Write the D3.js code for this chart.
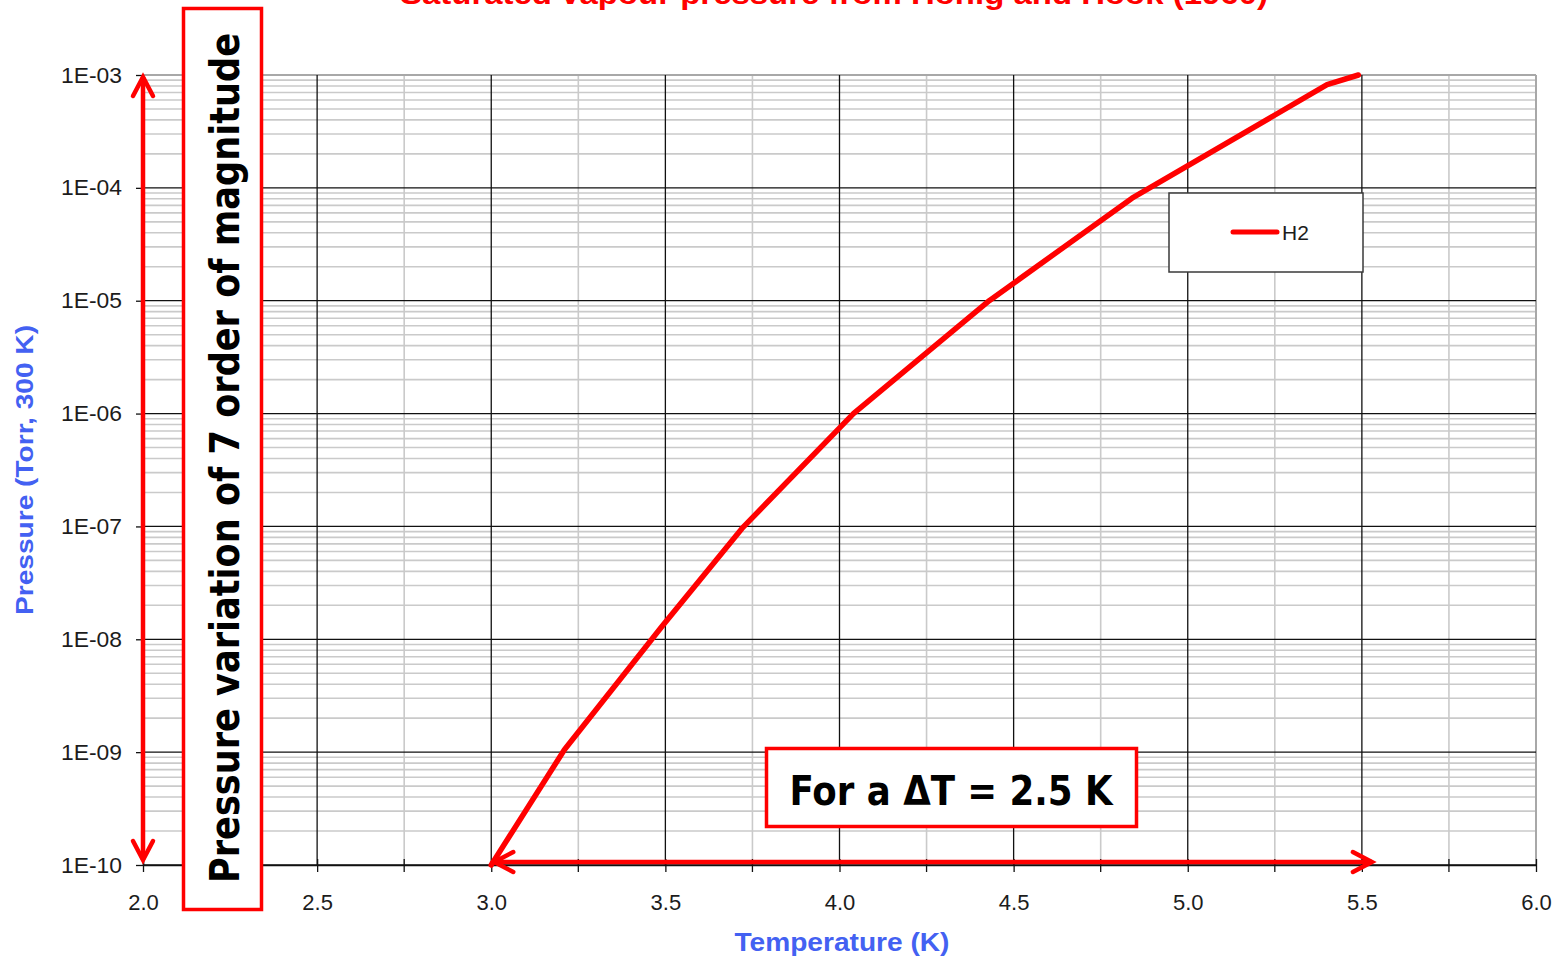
<!DOCTYPE html>
<html>
<head>
<meta charset="utf-8">
<script src="https://cdn.jsdelivr.net/npm/d3@7"></script>
<style>
  html, body { margin: 0; padding: 0; background: #fff; overflow: hidden; }
  svg { display: block; }
</style>
</head>
<body>
<svg id="chart" width="1559" height="959"></svg>
<script>
// ---- data ----
const temperatureK = [3.00, 3.21, 3.49, 3.72, 4.04, 4.43, 4.84, 5.40, 5.49];
const pressureTorr = [1.0e-10, 1.05e-9, 1.3e-8, 9.6e-8, 1.0e-6, 1.0e-5, 8.1e-5, 8.2e-4, 1.0e-3];
const xTickValues = [2.0, 2.5, 3.0, 3.5, 4.0, 4.5, 5.0, 5.5, 6.0];
const xTickLabels = ["2.0", "2.5", "3.0", "3.5", "4.0", "4.5", "5.0", "5.5", "6.0"];
const yTickValues = [1e-3, 1e-4, 1e-5, 1e-6, 1e-7, 1e-8, 1e-9, 1e-10];
const yTickLabels = ["1E-03", "1E-04", "1E-05", "1E-06", "1E-07", "1E-08", "1E-09", "1E-10"];
const seriesName = "H2";
const titleText = "Saturated vapour pressure from Honig and Hook (1960)";
const xTitle = "Temperature (K)";
const yTitle = "Pressure (Torr, 300 K)";
const noteVertical = "Pressure variation of 7 order of magnitude";
const noteHorizontal = "For a \u0394T = 2.5 K";
const deltaRange = [3.0, 5.5];

// ---- layout ----
const svg = d3.select("#chart");
const L = 143, R = 1536, T = 75, B = 865;
const x = d3.scaleLinear().domain([2, 6]).range([L, R]);
const y = d3.scaleLog().domain([1e-10, 1e-3]).range([B, T]);

const red = "#ff0000";
const blue = "#4361f2";
const gridGray = "#cacaca";

// title (mostly cut off above the page, as in the reference)
svg.append("text")
  .attr("x", 834).attr("y", 4)
  .attr("text-anchor", "middle")
  .attr("font-family", "Liberation Sans, Arial, sans-serif")
  .attr("font-weight", "bold")
  .attr("font-size", 30)
  .attr("fill", red)
  .attr("textLength", 868).attr("lengthAdjust", "spacingAndGlyphs")
  .text(titleText);

const g = svg.append("g");

// minor horizontal grid
const minorY = [];
for (let e = -10; e < -3; e++) {
  for (let m = 2; m <= 9; m++) minorY.push(m * Math.pow(10, e));
}
g.append("g").selectAll("line").data(minorY).join("line")
  .attr("x1", L).attr("x2", R)
  .attr("y1", d => y(d)).attr("y2", d => y(d))
  .attr("stroke", gridGray).attr("stroke-width", 1.6);

// minor vertical grid (every 0.25 K)
const minorX = d3.range(2.25, 6, 0.5);
g.append("g").selectAll("line").data(minorX).join("line")
  .attr("x1", d => x(d)).attr("x2", d => x(d))
  .attr("y1", T).attr("y2", B)
  .attr("stroke", gridGray).attr("stroke-width", 1.6);

// plot border (top/right gray)
g.append("line").attr("x1", L).attr("x2", R).attr("y1", T).attr("y2", T)
  .attr("stroke", "#a8a8a8").attr("stroke-width", 2);
g.append("line").attr("x1", R).attr("x2", R).attr("y1", T).attr("y2", B)
  .attr("stroke", "#a8a8a8").attr("stroke-width", 2);

// major horizontal grid
g.append("g").selectAll("line").data(yTickValues.slice(1)).join("line")
  .attr("x1", L).attr("x2", R)
  .attr("y1", d => y(d)).attr("y2", d => y(d))
  .attr("stroke", "#111").attr("stroke-width", 1.3);

// major vertical grid
g.append("g").selectAll("line").data(xTickValues.slice(1, -1)).join("line")
  .attr("x1", d => x(d)).attr("x2", d => x(d))
  .attr("y1", T).attr("y2", B)
  .attr("stroke", "#111").attr("stroke-width", 1.3);

// x axis
const xAxis = d3.axisBottom(x)
  .tickValues(xTickValues)
  .tickFormat((d, i) => xTickLabels[i])
  .tickSizeInner(7).tickSizeOuter(0).tickPadding(22);
const xg = svg.append("g").attr("transform", `translate(0,${B})`).call(xAxis);
xg.select(".domain").attr("stroke", "#111").attr("stroke-width", 1.5);
xg.selectAll(".tick line").attr("stroke", "#111").attr("stroke-width", 1.3).attr("y1", -6);
xg.selectAll(".tick text")
  .attr("font-family", "Liberation Sans, Arial, sans-serif")
  .attr("font-size", 22).attr("fill", "#1c1c1c");
// minor x ticks
xg.append("g").selectAll("line").data(minorX).join("line")
  .attr("x1", d => x(d)).attr("x2", d => x(d))
  .attr("y1", -6).attr("y2", 7)
  .attr("stroke", "#111").attr("stroke-width", 1.3);

// y axis
const yAxis = d3.axisLeft(y)
  .tickValues(yTickValues)
  .tickFormat((d, i) => yTickLabels[i])
  .tickSizeInner(7).tickSizeOuter(0).tickPadding(14);
const yg = svg.append("g").attr("transform", `translate(${L},0)`).call(yAxis);
yg.select(".domain").attr("stroke", "#111").attr("stroke-width", 1.5);
yg.selectAll(".tick line").attr("stroke", "#111").attr("stroke-width", 1.3);
yg.selectAll(".tick text")
  .attr("font-family", "Liberation Sans, Arial, sans-serif")
  .attr("font-size", 22).attr("fill", "#1c1c1c")
  .attr("textLength", 61).attr("lengthAdjust", "spacingAndGlyphs");

// axis titles
svg.append("text")
  .attr("x", 842).attr("y", 951)
  .attr("text-anchor", "middle")
  .attr("font-family", "Liberation Sans, Arial, sans-serif")
  .attr("font-weight", "bold").attr("font-size", 25)
  .attr("fill", blue)
  .attr("textLength", 215).attr("lengthAdjust", "spacingAndGlyphs")
  .text(xTitle);
svg.append("text")
  .attr("transform", "translate(33,470) rotate(-90)")
  .attr("text-anchor", "middle")
  .attr("font-family", "Liberation Sans, Arial, sans-serif")
  .attr("font-weight", "bold").attr("font-size", 24)
  .attr("fill", blue)
  .attr("textLength", 290).attr("lengthAdjust", "spacingAndGlyphs")
  .text(yTitle);

// data line
const pts = temperatureK.map((t, i) => [t, pressureTorr[i]]);
const line = d3.line().x(d => x(d[0])).y(d => y(d[1]));
svg.append("path")
  .datum(pts)
  .attr("d", line)
  .attr("fill", "none")
  .attr("stroke", red)
  .attr("stroke-width", 5.5)
  .attr("stroke-linejoin", "round")
  .attr("stroke-linecap", "round");

// legend
const lg = svg.append("g");
lg.append("rect").attr("x", 1169).attr("y", 193).attr("width", 194).attr("height", 79)
  .attr("fill", "#fff").attr("stroke", "#3a3a3a").attr("stroke-width", 1.5);
lg.append("line").attr("x1", 1233).attr("x2", 1277).attr("y1", 232).attr("y2", 232)
  .attr("stroke", red).attr("stroke-width", 5).attr("stroke-linecap", "round");
lg.append("text").attr("x", 1282).attr("y", 240)
  .attr("font-family", "Liberation Sans, Arial, sans-serif")
  .attr("font-size", 21).attr("fill", "#1c1c1c")
  .text(seriesName);

// ---- annotations ----
const ann = svg.append("g");
function chevron(tipX, tipY, dirX, dirY) {
  const len = 19, half = 10;
  const bx = tipX - dirX * len, by = tipY - dirY * len;
  const px = -dirY, py = dirX;
  return `M${bx + px * half},${by + py * half}L${tipX},${tipY}L${bx - px * half},${by - py * half}`;
}
// vertical double arrow at x = 2.0
const vx = x(2.0), vTop = y(1e-3) + 2, vBot = y(1e-10) - 5;
ann.append("line").attr("x1", vx).attr("x2", vx).attr("y1", vTop).attr("y2", vBot)
  .attr("stroke", red).attr("stroke-width", 4.5);
ann.append("path").attr("d", chevron(vx, vTop, 0, -1))
  .attr("fill", "none").attr("stroke", red).attr("stroke-width", 4.5).attr("stroke-linecap", "round");
ann.append("path").attr("d", chevron(vx, vBot, 0, 1))
  .attr("fill", "none").attr("stroke", red).attr("stroke-width", 4.5).attr("stroke-linecap", "round");

// horizontal double arrow across deltaT
const hy = y(1e-10) - 3, hL = x(deltaRange[0]) + 3, hR = x(deltaRange[1]) + 10;
ann.append("line").attr("x1", hL).attr("x2", hR).attr("y1", hy).attr("y2", hy)
  .attr("stroke", red).attr("stroke-width", 4.5);
ann.append("path").attr("d", chevron(hL, hy, -1, 0))
  .attr("fill", "none").attr("stroke", red).attr("stroke-width", 4.5).attr("stroke-linecap", "round");
ann.append("path").attr("d", chevron(hR, hy, 1, 0))
  .attr("fill", "none").attr("stroke", red).attr("stroke-width", 4.5).attr("stroke-linecap", "round");

// vertical note box
ann.append("rect").attr("x", 183.5).attr("y", 8.5).attr("width", 78).attr("height", 901)
  .attr("fill", "#fff").attr("stroke", red).attr("stroke-width", 3.5);
ann.append("text")
  .attr("transform", "translate(239,458) rotate(-90)")
  .attr("text-anchor", "middle")
  .attr("font-family", "DejaVu Sans, sans-serif")
  .attr("font-weight", "bold").attr("font-size", 40)
  .attr("fill", "#000")
  .attr("textLength", 850).attr("lengthAdjust", "spacingAndGlyphs")
  .text(noteVertical);

// horizontal note box
ann.append("rect").attr("x", 766.5).attr("y", 748.5).attr("width", 370).attr("height", 78)
  .attr("fill", "#fff").attr("stroke", red).attr("stroke-width", 3.5);
ann.append("text")
  .attr("x", 951).attr("y", 805)
  .attr("text-anchor", "middle")
  .attr("font-family", "DejaVu Sans, sans-serif")
  .attr("font-weight", "bold").attr("font-size", 40)
  .attr("fill", "#000")
  .attr("textLength", 323).attr("lengthAdjust", "spacingAndGlyphs")
  .text(noteHorizontal);
</script>
</body>
</html>
